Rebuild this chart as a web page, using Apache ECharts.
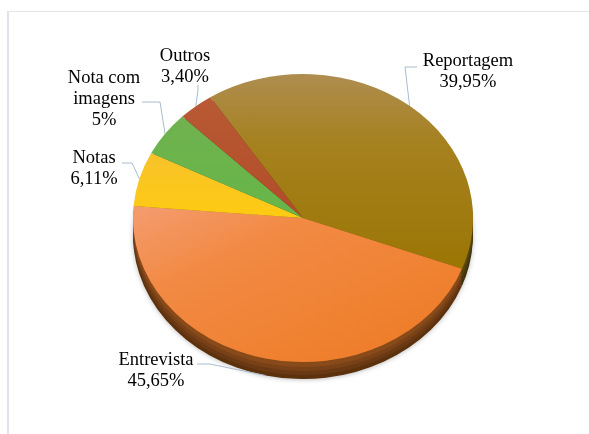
<!DOCTYPE html>
<html>
<head>
<meta charset="utf-8">
<script src="https://cdn.jsdelivr.net/npm/echarts@6/dist/echarts.min.js"></script>
<style>
  html, body { margin: 0; padding: 0; background: #ffffff; }
  #wrap { position: relative; width: 589px; height: 434px; overflow: hidden; }
  #frame { position: absolute; left: 7px; top: 11px; width: 640px; height: 480px;
           border-left: 2px solid #e0e4ea; border-top: 1px solid #e2e5ea; box-sizing: border-box; }
  #pie, #labels { position: absolute; left: 0; top: 0; width: 589px; height: 434px; }
  /* the pie is drawn as a circle and flattened into a tilted disc */
  #pie { transform-origin: 303px 218px; transform: scaleY(0.847); }
</style>
</head>
<body>
<div id="wrap">
  <div id="frame"></div>
  <div id="pie"></div>
  <div id="labels"></div>
</div>
<script>
// ---- data ----
const categories = ['Reportagem', 'Entrevista', 'Notas', 'Nota com imagens', 'Outros'];
const labelNames = ['Reportagem', 'Entrevista', 'Notas', 'Nota com\nimagens', 'Outros'];
const shares = [39.95, 45.65, 6.11, 5, 3.40];

// ---- geometry / style ----
const CX = 303, CY = 218, R = 170;
const SCALE = 0.847;          // vertical flattening of the disc
const DEPTH = 17;             // visible thickness of the disc edge (screen px)
const START = 123;

const baseColors = ['#a27d1c', '#f0822e', '#fbc71a', '#6cb44d', '#b4532e'];
const faceColors = [
  new echarts.graphic.LinearGradient(0, 0, 0, 1, [
    { offset: 0, color: '#ae8d50' }, { offset: 0.35, color: '#a6811f' }, { offset: 1, color: '#9b7604' }]),
  new echarts.graphic.LinearGradient(0, 0, 1, 1, [
    { offset: 0, color: '#f49c70' }, { offset: 0.3, color: '#f28a44' }, { offset: 1, color: '#ed7a22' }]),
  new echarts.graphic.LinearGradient(0, 0, 0, 1, [
    { offset: 0, color: '#f8c22a' }, { offset: 1, color: '#fdcb12' }]),
  new echarts.graphic.LinearGradient(0, 0, 0, 1, [
    { offset: 0, color: '#70b24f' }, { offset: 1, color: '#66b648' }]),
  new echarts.graphic.LinearGradient(0, 0, 0, 1, [
    { offset: 0, color: '#b85a34' }, { offset: 1, color: '#b14d28' }])
];

function shade(hex, f) {
  const n = parseInt(hex.slice(1), 16);
  const r = Math.round(((n >> 16) & 255) * f);
  const g = Math.round(((n >> 8) & 255) * f);
  const b = Math.round((n & 255) * f);
  return 'rgb(' + r + ',' + g + ',' + b + ')';
}

function fmt(v) {
  return (Number.isInteger(v) ? String(v) : v.toFixed(2).replace('.', ',')) + '%';
}

const pieData = categories.map((name, i) => ({ name: name, value: shares[i] }));

// ---- disc: edge layers underneath, coloured face on top ----
const edgeLayers = [
  { d: 17, f: 0.38 },
  { d: 13, f: 0.44 },
  { d: 9,  f: 0.50 },
  { d: 5,  f: 0.57 }
];

const pieSeries = edgeLayers.map((layer, k) => ({
  type: 'pie',
  silent: true,
  startAngle: START,
  radius: R,
  center: [CX, CY + layer.d / SCALE],
  label: { show: false },
  labelLine: { show: false },
  itemStyle: k === 0
    ? { shadowBlur: 5, shadowColor: 'rgba(0,0,0,0.25)', shadowOffsetY: 1 }
    : {},
  data: pieData.map((d, i) => ({
    name: d.name, value: d.value,
    itemStyle: { color: shade(baseColors[i], layer.f) }
  }))
}));

pieSeries.push({
  type: 'pie',
  silent: true,
  startAngle: START,
  radius: R,
  center: [CX, CY],
  label: { show: false },
  labelLine: { show: false },
  data: pieData.map((d, i) => ({
    name: d.name, value: d.value,
    itemStyle: { color: faceColors[i] }
  }))
});

const pieChart = echarts.init(document.getElementById('pie'), null, { renderer: 'svg' });
pieChart.setOption({ animation: false, series: pieSeries });

// ---- labels with leader lines ----
const LABEL_SPOTS = [
  { x: 468, y: 72,  path: [[405, 67], [417, 67]] },
  { x: 156, y: 371, rim: true, path: [[210, 364], [197, 364]] },
  { x: 94,  y: 169, path: [[132, 163], [122, 163]] },
  { x: 104, y: 99,  path: [[160, 102], [142, 102]] },
  { x: 185, y: 67,  path: [[198, 90], [198, 85]] }
];

const labelChart = echarts.init(document.getElementById('labels'));
labelChart.setOption({
  animation: false,
  series: [{
    type: 'pie',
    silent: true,
    startAngle: START,
    radius: R,
    center: [CX, CY],
    avoidLabelOverlap: false,
    itemStyle: { color: 'rgba(0,0,0,0)' },
    label: {
      show: true,
      position: 'outside',
      fontFamily: '"Liberation Serif", "Times New Roman", serif',
      fontSize: 18.5,
      lineHeight: 21,
      color: '#000000',
      align: 'center',
      formatter: p => labelNames[p.dataIndex] + '\n' + fmt(shares[p.dataIndex])
    },
    labelLine: { show: true, lineStyle: { color: '#a9bccf', width: 1 } },
    labelLayout: function (p) {
      const spot = LABEL_SPOTS[p.dataIndex];
      const a = p.labelLinePoints ? p.labelLinePoints[0] : [CX, CY];
      const ax = a[0];
      const ay = CY + (a[1] - CY) * SCALE + (spot.rim ? DEPTH : 0);
      return {
        x: spot.x, y: spot.y, align: 'center', verticalAlign: 'middle',
        labelLinePoints: [[ax, ay]].concat(spot.path)
      };
    },
    data: pieData
  }]
});
</script>
</body>
</html>
